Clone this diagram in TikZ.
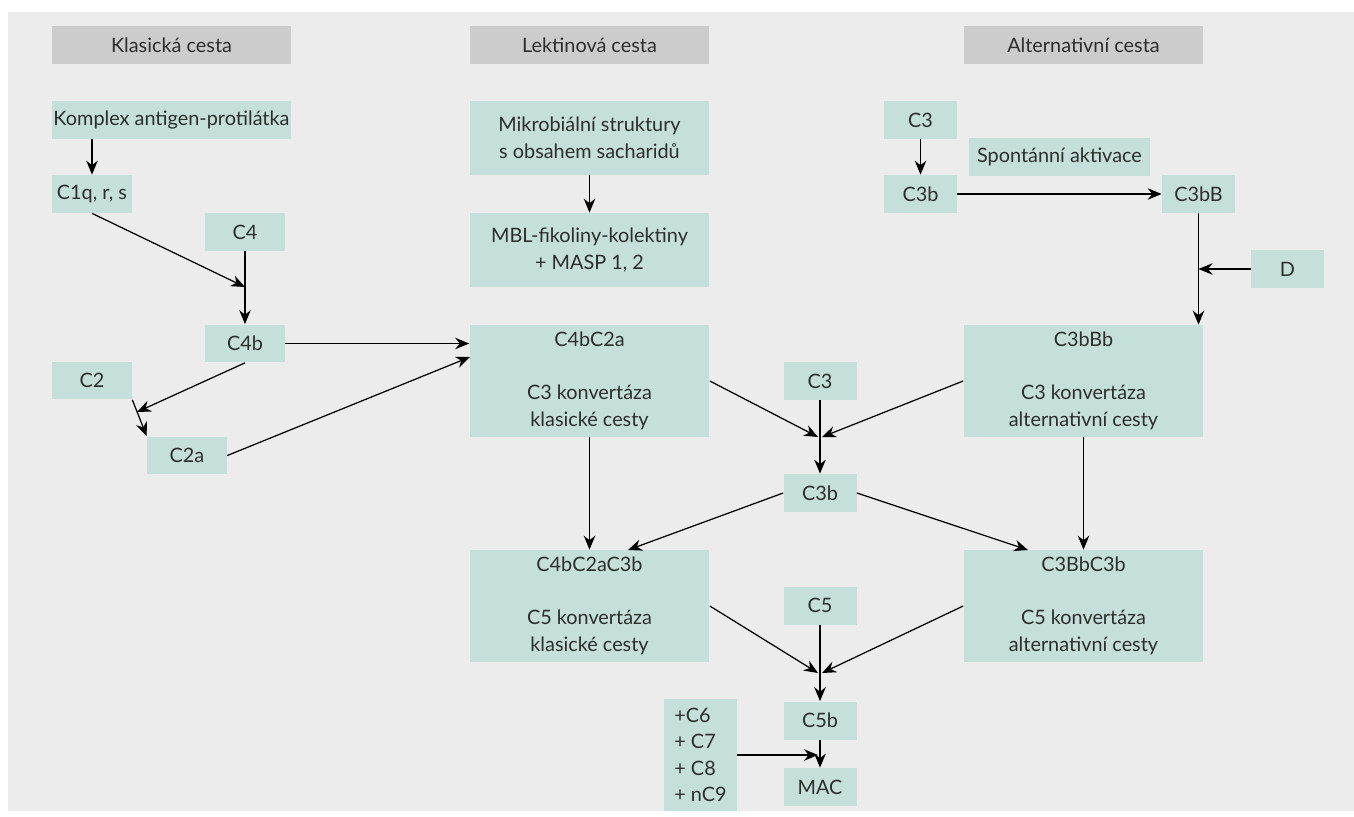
\documentclass[tikz,border=0pt]{standalone}
\usepackage{fontspec}
\setmainfont{Lato}
\usetikzlibrary{arrows.meta}
\definecolor{bggray}{RGB}{236,236,236}
\definecolor{headgray}{RGB}{204,204,204}
\definecolor{boxgreen}{RGB}{197,224,219}
\definecolor{textgray}{RGB}{45,45,45}
\tikzset{
  box/.style={fill=boxgreen, text=textgray, inner sep=0pt, align=center,
    font=\fontsize{11.3}{15.1}\selectfont},
  small/.style={box, minimum width=1.46cm, minimum height=0.76cm},
  smallw/.style={box, minimum width=1.6cm, minimum height=0.76cm},
  wide/.style={box, minimum width=4.8cm, minimum height=0.76cm},
  big/.style={box, minimum width=4.8cm, minimum height=2.24cm},
  head/.style={wide, fill=headgray},
  arr/.style={-{Stealth[length=2.8mm, width=2.3mm]}, line width=0.7pt, black}
}
\begin{document}
\begin{tikzpicture}[x=0.02cm, y=-0.02cm]
  \useasboundingbox (0, 0) rectangle (1354, 817);
  \fill[bggray] (8, 12) rectangle (1354, 811);

  % headers
  \node [head] (hklas) at (171.5, 45) {Klasická cesta};
  \node [head] (hlekt) at (589.5, 45) {Lektinová cesta};
  \node [head] (halt) at (1083.5, 45) {Alternativní cesta};

  % classical pathway
  \node [wide] (kompl) at (171.5, 120) {Komplex antigen-protilátka};
  \node [smallw] (c1q) at (92, 194) {C1q, r, s};
  \node [smallw] (c4) at (245, 232) {C4};
  \node [smallw] (c4b) at (245, 343.5) {C4b};
  \node [smallw] (c2) at (92, 380.5) {C2};
  \node [smallw] (c2a) at (187, 455.5) {C2a};

  % lectin pathway
  \node [wide, minimum height=1.48cm] (mikro) at (589.5, 138) {Mikrobiální struktury\\s obsahem sacharidů};
  \node [wide, minimum height=1.48cm] (mbl) at (589.5, 250) {MBL-fikoliny-kolektiny\\+ MASP 1, 2};
  \node [big] (c4bc2a) at (589.5, 381) {C4bC2a\\\mbox{}\\C3 konvertáza\\klasické cesty};
  \node [big] (c4bc2ac3b) at (589.5, 606) {C4bC2aC3b\\\mbox{}\\C5 konvertáza\\klasické cesty};

  % alternative pathway
  \node [small] (c3r) at (920.5, 120) {C3};
  \node [small] (c3br) at (920.5, 194) {C3b};
  \node [box, minimum width=3.62cm, minimum height=0.76cm] (spont) at (1059.5, 157) {Spontánní aktivace};
  \node [small] (c3bB) at (1198.5, 194) {C3bB};
  \node [small] (d) at (1287.5, 269) {D};
  \node [big] (c3bBb) at (1083.5, 381) {C3bBb\\\mbox{}\\C3 konvertáza\\alternativní cesty};
  \node [big] (c3bbc3b) at (1083.5, 606) {C3BbC3b\\\mbox{}\\C5 konvertáza\\alternativní cesty};

  % common part
  \node [small] (c3m) at (820, 381) {C3};
  \node [small] (c3bm) at (820, 493) {C3b};
  \node [small] (c5) at (820, 605.5) {C5};
  \node [small] (c5b) at (820, 720.5) {C5b};
  \node [small] (mac) at (820, 787) {MAC};
  \node [small, minimum height=2.24cm, align=left] (plus) at (700.5, 755) {+C6\\+ C7\\+ C8\\+ nC9};

  % junction points
  \coordinate (j1) at (245, 287);
  \coordinate (j2) at (137, 412);
  \coordinate (j3) at (470, 357);
  \coordinate (j4) at (818, 437);
  \coordinate (j5) at (822, 437);
  \coordinate (j6) at (628, 550);
  \coordinate (j7) at (1028, 550);
  \coordinate (j8) at (818, 673);
  \coordinate (j9) at (822, 673);
  \coordinate (j10) at (818, 755);

  \draw [arr] (c1q.north |- kompl.south) -- (c1q.north);
  \draw [arr] (c1q.south) -- (j1);
  \draw [arr] (c4.south) -- (c4b.north);
  \draw [arr] (c4b.east) -- (c4b.east -| c4bc2a.west);
  \draw [arr] (c4b.south) -- (j2);
  \draw [arr] (c2.south east) -- (c2a.north west);
  \draw [arr] (c2a.east) -- (j3);
  \draw [arr] (mikro.south) -- (mbl.north);
  \draw [arr] (c3r.south) -- (c3br.north);
  \draw [arr] (c3br.east) -- (c3bB.west);
  \draw [arr] (c3bB.south) -- (c3bB.south |- c3bBb.north);
  \draw [arr] (d.west) -- (d.west -| c3bB.south);
  \draw [arr] (c4bc2a.east) -- (j4);
  \draw [arr] (c3m.south) -- (c3bm.north);
  \draw [arr] (c3bBb.west) -- (j5);
  \draw [arr] (c4bc2a.south) -- (c4bc2ac3b.north);
  \draw [arr] (c3bm.west) -- (j6);
  \draw [arr] (c3bm.east) -- (j7);
  \draw [arr] (c3bBb.south) -- (c3bbc3b.north);
  \draw [arr] (c4bc2ac3b.east) -- (j8);
  \draw [arr] (c5.south) -- (c5b.north);
  \draw [arr] (c3bbc3b.west) -- (j9);
  \draw [arr] (c5b.south) -- (mac.north);
  \draw [arr] (plus.east) -- (j10);
\end{tikzpicture}
\end{document}
